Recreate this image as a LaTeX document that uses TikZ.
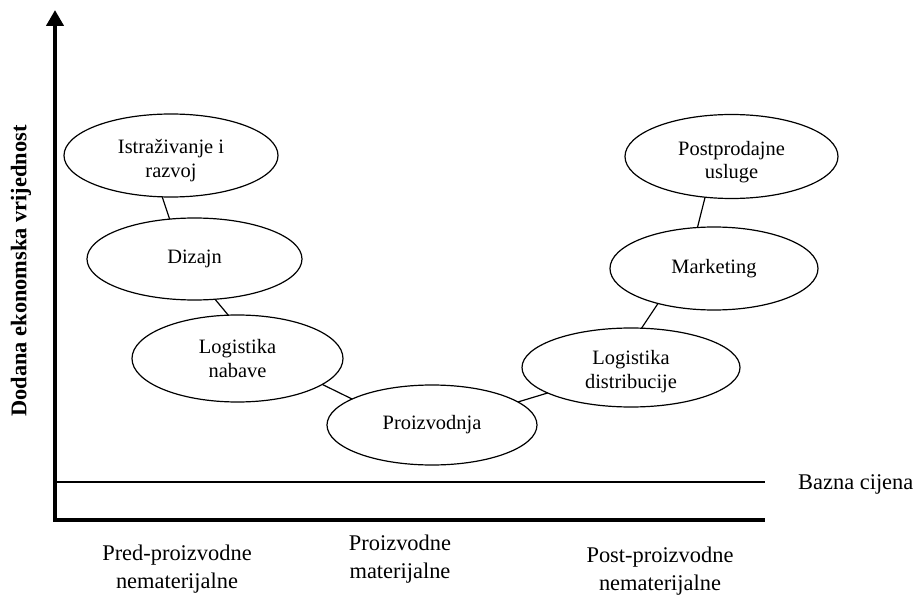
\documentclass[tikz,border=0pt]{standalone}
\usepackage{fontspec}
\setmainfont{Liberation Serif}
\usepackage{tikz}
\usetikzlibrary{shapes,arrows.meta,positioning}

\begin{document}
\begin{tikzpicture}[x=1bp,y=-1bp,
		faza/.style={ellipse, draw, line width=1.2bp, inner sep=0pt, outer sep=0pt, align=center, font=\fontsize{20.5}{23.5}\selectfont},
		veza/.style={line width=1.2bp},
		os/.style={line width=4bp},
		oznaka/.style={align=center, inner sep=0pt, anchor=north, font=\fontsize{22.5}{28}\selectfont}]
				\useasboundingbox (0,0) rectangle (917,601);

				\coordinate (o) at (55,520);
				\coordinate (ytop) at (55,10);
				\coordinate (xend) at (765,520);
				\coordinate (b0) at (55,482);
				\coordinate (b1) at (765,482);

				\draw [os, {Triangle[width=17bp,length=16bp]}-] (ytop) -- (o) -- (xend);
				\draw [line width=1.1bp] (b0) -- (b1);

				\node [faza, minimum width=214bp, minimum height=83bp] (istr) at (171,155.5) {\rule{0pt}{24bp}Istraživanje i\\razvoj};
				\node [faza, minimum width=215bp, minimum height=82bp] (dizajn) at (194.5,259) {Dizajn};
				\node [faza, minimum width=211bp, minimum height=87bp] (lognab) at (237.5,358.5) {Logistika\\nabave};
				\node [faza, minimum width=210bp, minimum height=80bp] (proiz) at (432,425) {Proizvodnja};
				\node [faza, minimum width=218bp, minimum height=79bp] (logdis) at (631,367.5) {\rule{0pt}{22bp}Logistika\\distribucije};
				\node [faza, minimum width=208bp, minimum height=83bp] (market) at (714,268.5) {Marketing};
				\node [faza, minimum width=213bp, minimum height=84bp] (postpr) at (731.5,156.5) {\rule{0pt}{25bp}Postprodajne\\usluge};

				\draw [veza] (istr.-102) -- (dizajn.122);
				\draw [veza] (dizajn.-63) -- (lognab.102);
				\draw [veza] (lognab.-17) -- (proiz.162);
				\draw [veza] (proiz.15) -- (logdis.197);
				\draw [veza] (logdis.75) -- (market.-148);
				\draw [veza] (market.112) -- (postpr.-123);

				\node [rotate=90, font=\fontsize{22.5}{26}\selectfont\bfseries] (osy) at (21,271) {Dodana ekonomska vrijednost};
				\node [anchor=base west, inner sep=0pt, font=\fontsize{22.5}{26}\selectfont] (bazna) at (798,489) {Bazna cijena};

				\node [oznaka] (pred) at (177,544.5) {Pred-proizvodne\\nematerijalne};
				\node [oznaka] (mat) at (400,535) {Proizvodne\\materijalne};
				\node [oznaka] (post) at (660,547) {Post-proizvodne\\nematerijalne};

\end{tikzpicture}
\end{document}
